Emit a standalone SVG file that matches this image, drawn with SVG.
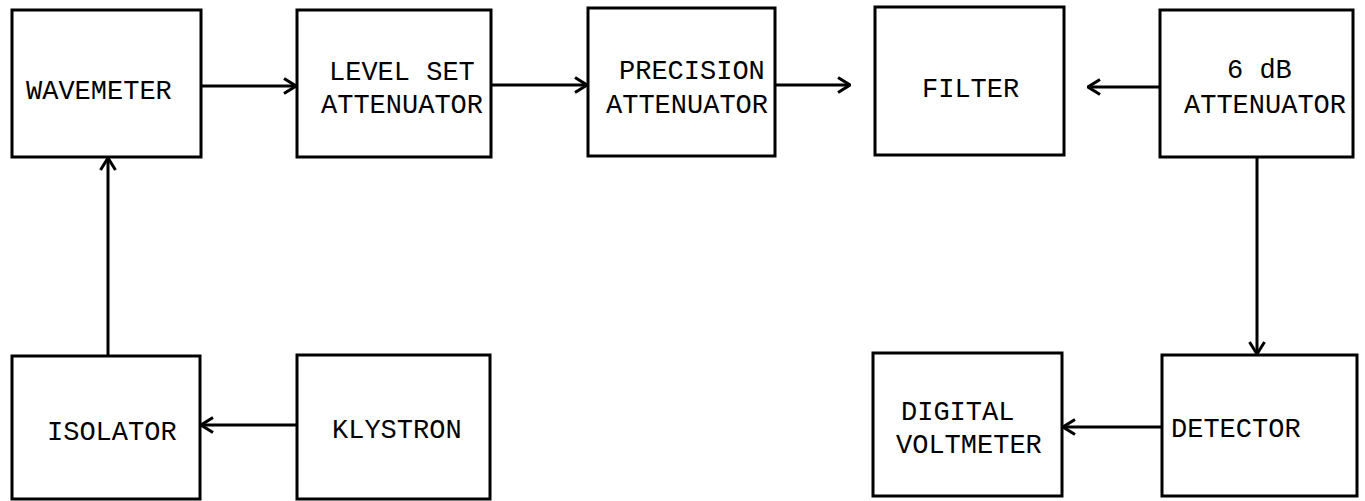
<svg xmlns="http://www.w3.org/2000/svg" width="1365" height="501" viewBox="0 0 1365 501">
<style>
.box{fill:none;stroke:#000;stroke-width:3}
.lbl{font-family:"Liberation Mono","Courier New",monospace;font-size:27px;fill:#000}
.con{fill:none;stroke:#000;stroke-width:3;marker-end:url(#ah)}
</style>
<defs>
<marker id="ah" viewBox="0 0 14 18" refX="13" refY="9" markerWidth="14" markerHeight="18" markerUnits="userSpaceOnUse" orient="auto">
<path d="M1,1.5 L13,9 L1,16.5" fill="none" stroke="#000" stroke-width="3"/>
</marker>
</defs>
<rect width="1365" height="501" fill="#fff"/>
<g id="wavemeter"><rect class="box" x="12" y="10" width="189" height="147"/><text class="lbl" x="26" y="99">WAVEMETER</text></g>
<g id="levelset"><rect class="box" x="297" y="10" width="194" height="147"/><text class="lbl" x="329" y="80">LEVEL SET</text><text class="lbl" x="321" y="113">ATTENUATOR</text></g>
<g id="precision"><rect class="box" x="588" y="8" width="187" height="148"/><text class="lbl" x="619" y="79">PRECISION</text><text class="lbl" x="606" y="113">ATTENUATOR</text></g>
<g id="filter"><rect class="box" x="875" y="7" width="189" height="148"/><text class="lbl" x="922" y="97">FILTER</text></g>
<g id="att6db"><rect class="box" x="1160" y="10" width="193" height="147"/><text class="lbl" x="1227" y="78">6 dB</text><text class="lbl" x="1184" y="113">ATTENUATOR</text></g>
<g id="isolator"><rect class="box" x="12" y="356" width="188" height="143"/><text class="lbl" x="47" y="440">ISOLATOR</text></g>
<g id="klystron"><rect class="box" x="297" y="355" width="193" height="144"/><text class="lbl" x="332" y="438">KLYSTRON</text></g>
<g id="voltmeter"><rect class="box" x="873" y="353" width="189" height="143"/><text class="lbl" x="901" y="420">DIGITAL</text><text class="lbl" x="896" y="453">VOLTMETER</text></g>
<g id="detector"><rect class="box" x="1162" y="355" width="195" height="141"/><text class="lbl" x="1171" y="437">DETECTOR</text></g>
<g id="connectors">
<line class="con" x1="201" y1="86" x2="296" y2="86"/>
<line class="con" x1="491" y1="85" x2="587" y2="85"/>
<line class="con" x1="775" y1="85" x2="850" y2="85"/>
<line class="con" x1="1160" y1="87" x2="1088" y2="87"/>
<line class="con" x1="1257" y1="157" x2="1257" y2="354"/>
<line class="con" x1="108" y1="356" x2="108" y2="158"/>
<line class="con" x1="297" y1="425" x2="201" y2="425"/>
<line class="con" x1="1162" y1="427" x2="1063" y2="427"/>
</g>
</svg>
